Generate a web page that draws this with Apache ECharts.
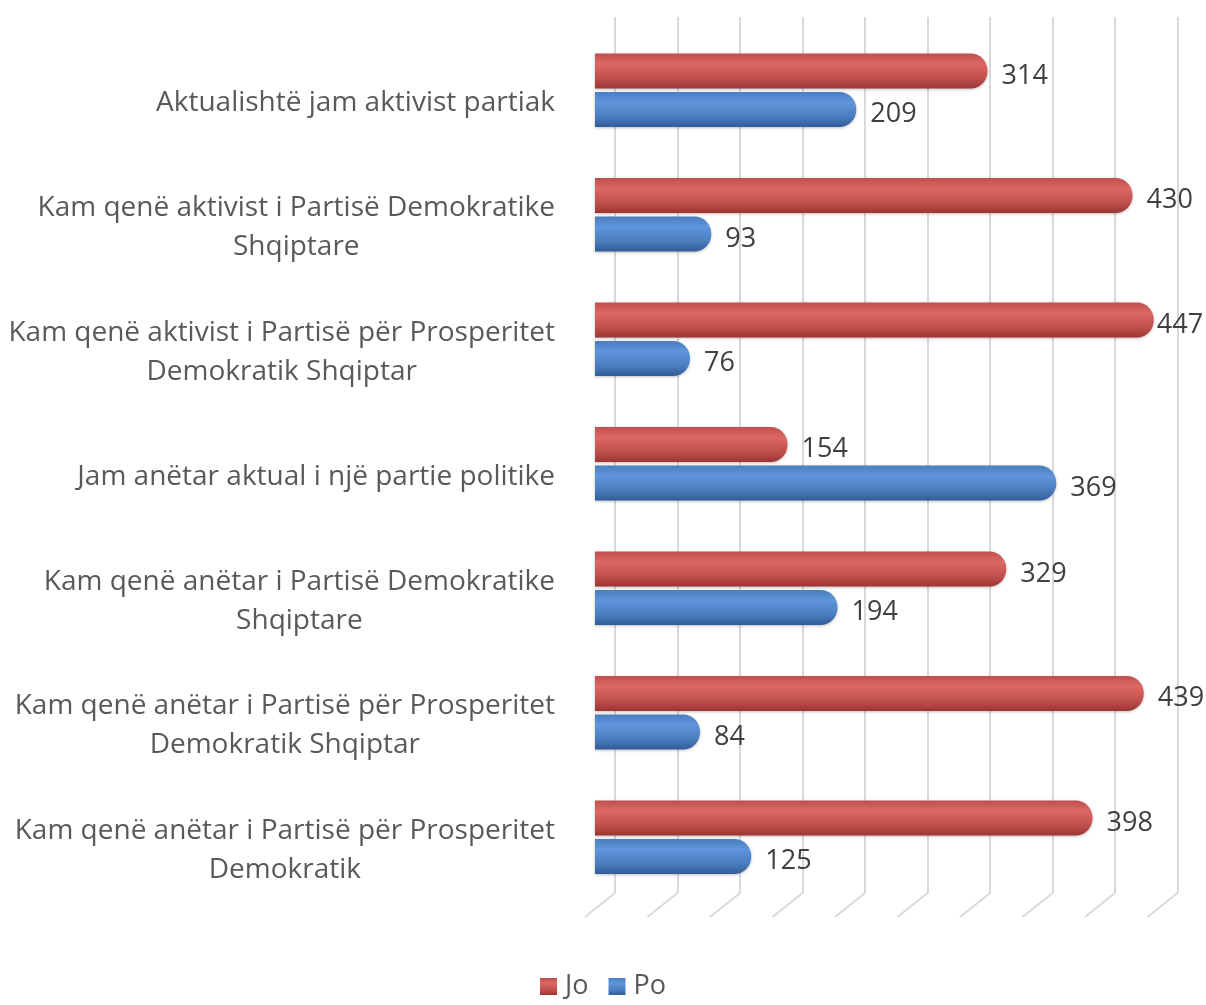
<!DOCTYPE html>
<html lang="sq">
<head>
    <meta charset="UTF-8">
    <title>Jo / Po</title>
    <script src="https://cdn.jsdelivr.net/npm/echarts@6/dist/echarts.min.js"></script>
    <style>
        html, body { margin: 0; padding: 0; background: #fff; }
        #main { width: 1206px; height: 1005px; }
    </style>
</head>
<body>
    <div id="main"></div>
    <script type="text/javascript">
        // kategorite (nga lart poshte)
        var categories = [
            ['Aktualishtë jam aktivist partiak'],
            ['Kam qenë aktivist i Partisë Demokratike', 'Shqiptare'],
            ['Kam qenë aktivist i Partisë për Prosperitet', 'Demokratik Shqiptar'],
            ['Jam anëtar aktual i një partie politike'],
            ['Kam qenë anëtar i Partisë Demokratike', 'Shqiptare'],
            ['Kam qenë anëtar i Partisë për Prosperitet', 'Demokratik Shqiptar'],
            ['Kam qenë anëtar i Partisë për Prosperitet', 'Demokratik']
        ];
        var seriesNames = ['Jo', 'Po'];
        var joValues = [314, 430, 447, 154, 329, 439, 398];
        var poValues = [209, 93, 76, 369, 194, 84, 125];
        var gridTicks = [0, 50, 100, 150, 200, 250, 300, 350, 400, 450];

        var catLabels = categories.map(function (c) { return c.join('\n'); });

        function cylinder(top, mid, bottom) {
            return new echarts.graphic.LinearGradient(0, 0, 0, 1, [
                { offset: 0, color: top },
                { offset: 0.3, color: mid },
                { offset: 0.7, color: top },
                { offset: 1, color: bottom }
            ]);
        }

        // etiketa afër fundit kur shiriti arrin skajin (si në Excel)
        function withLabels(values) {
            return values.map(function (v) {
                return v > 440 ? { value: v, label: { distance: 3 } } : v;
            });
        }

        var chart = echarts.init(document.getElementById('main'));
        var option = {
            animation: false,
            legend: {
                data: seriesNames,
                top: 968,
                left: 'center',
                itemWidth: 17,
                itemHeight: 17,
                itemGap: 20,
                icon: 'rect',
                textStyle: { fontFamily: 'Open Sans', fontSize: 27, color: '#595959', padding: [0, 0, 0, 3] }
            },
            grid: [
                { left: 595, width: 562.5, top: 28, height: 871.5 },   // shiritat
                { left: 615, width: 562.5, top: 17, height: 876 }      // muri i prapmë
            ],
            xAxis: [
                {
                    type: 'value', gridIndex: 0, min: 0, max: 450, interval: 50,
                    axisLine: { show: false }, axisTick: { show: false },
                    axisLabel: { show: false }, splitLine: { show: false }
                },
                {
                    type: 'value', gridIndex: 1, min: 0, max: 450, interval: 50,
                    axisLine: { show: false }, axisTick: { show: false },
                    axisLabel: { show: false },
                    splitLine: { show: true, lineStyle: { color: '#d9d9d9', width: 2 } }
                }
            ],
            yAxis: [
                {
                    type: 'category', gridIndex: 0, data: catLabels, inverse: true,
                    axisLine: { show: false }, axisTick: { show: false },
                    axisLabel: {
                        margin: 40,
                        align: 'right',
                        padding: [26, 0, 0, 0],
                        formatter: function (v) {
                            return v.split('\n').map(function (l) { return '{c|' + l + '}'; }).join('\n');
                        },
                        rich: {
                            c: {
                                align: 'center',
                                fontFamily: 'Open Sans',
                                fontSize: 28,
                                lineHeight: 39,
                                color: '#595959'
                            }
                        }
                    }
                },
                {
                    type: 'value', gridIndex: 1, min: 0, max: 1,
                    show: false
                }
            ],
            series: [
                {
                    // vijat e dyshemesë
                    type: 'custom',
                    xAxisIndex: 1,
                    yAxisIndex: 1,
                    silent: true,
                    z: 1,
                    data: gridTicks,
                    renderItem: function (params, api) {
                        var p = api.coord([api.value(0), 0]);
                        return {
                            type: 'line',
                            shape: { x1: p[0], y1: p[1], x2: p[0] - 30, y2: p[1] + 24 },
                            style: { stroke: '#d9d9d9', lineWidth: 2 }
                        };
                    }
                },
                {
                    name: seriesNames[0],
                    type: 'bar',
                    xAxisIndex: 0,
                    yAxisIndex: 0,
                    data: withLabels(joValues),
                    barWidth: 35,
                    barGap: '10%',
                    z: 3,
                    itemStyle: {
                        color: cylinder('#c0504d', '#dc6863', '#9c3532'),
                        borderRadius: [0, 17, 17, 0],
                        shadowColor: 'rgba(0,0,0,0.25)',
                        shadowBlur: 3,
                        shadowOffsetY: 1
                    },
                    label: {
                        show: true, position: 'right', distance: 14, offset: [0, 5],
                        fontFamily: 'Open Sans', fontSize: 27, color: '#404040'
                    }
                },
                {
                    name: seriesNames[1],
                    type: 'bar',
                    xAxisIndex: 0,
                    yAxisIndex: 0,
                    data: withLabels(poValues),
                    barWidth: 35,
                    barGap: '10%',
                    z: 3,
                    itemStyle: {
                        color: cylinder('#4a7ebf', '#5f95dc', '#325c97'),
                        borderRadius: [0, 17, 17, 0],
                        shadowColor: 'rgba(0,0,0,0.25)',
                        shadowBlur: 3,
                        shadowOffsetY: 1
                    },
                    label: {
                        show: true, position: 'right', distance: 14, offset: [0, 5],
                        fontFamily: 'Open Sans', fontSize: 27, color: '#404040'
                    }
                }
            ]
        };
        // ngjyrat e legjendës
        option.series[1].color = '#c0504d';
        option.series[2].color = '#4f81bd';
        chart.setOption(option);
    </script>
</body>
</html>
